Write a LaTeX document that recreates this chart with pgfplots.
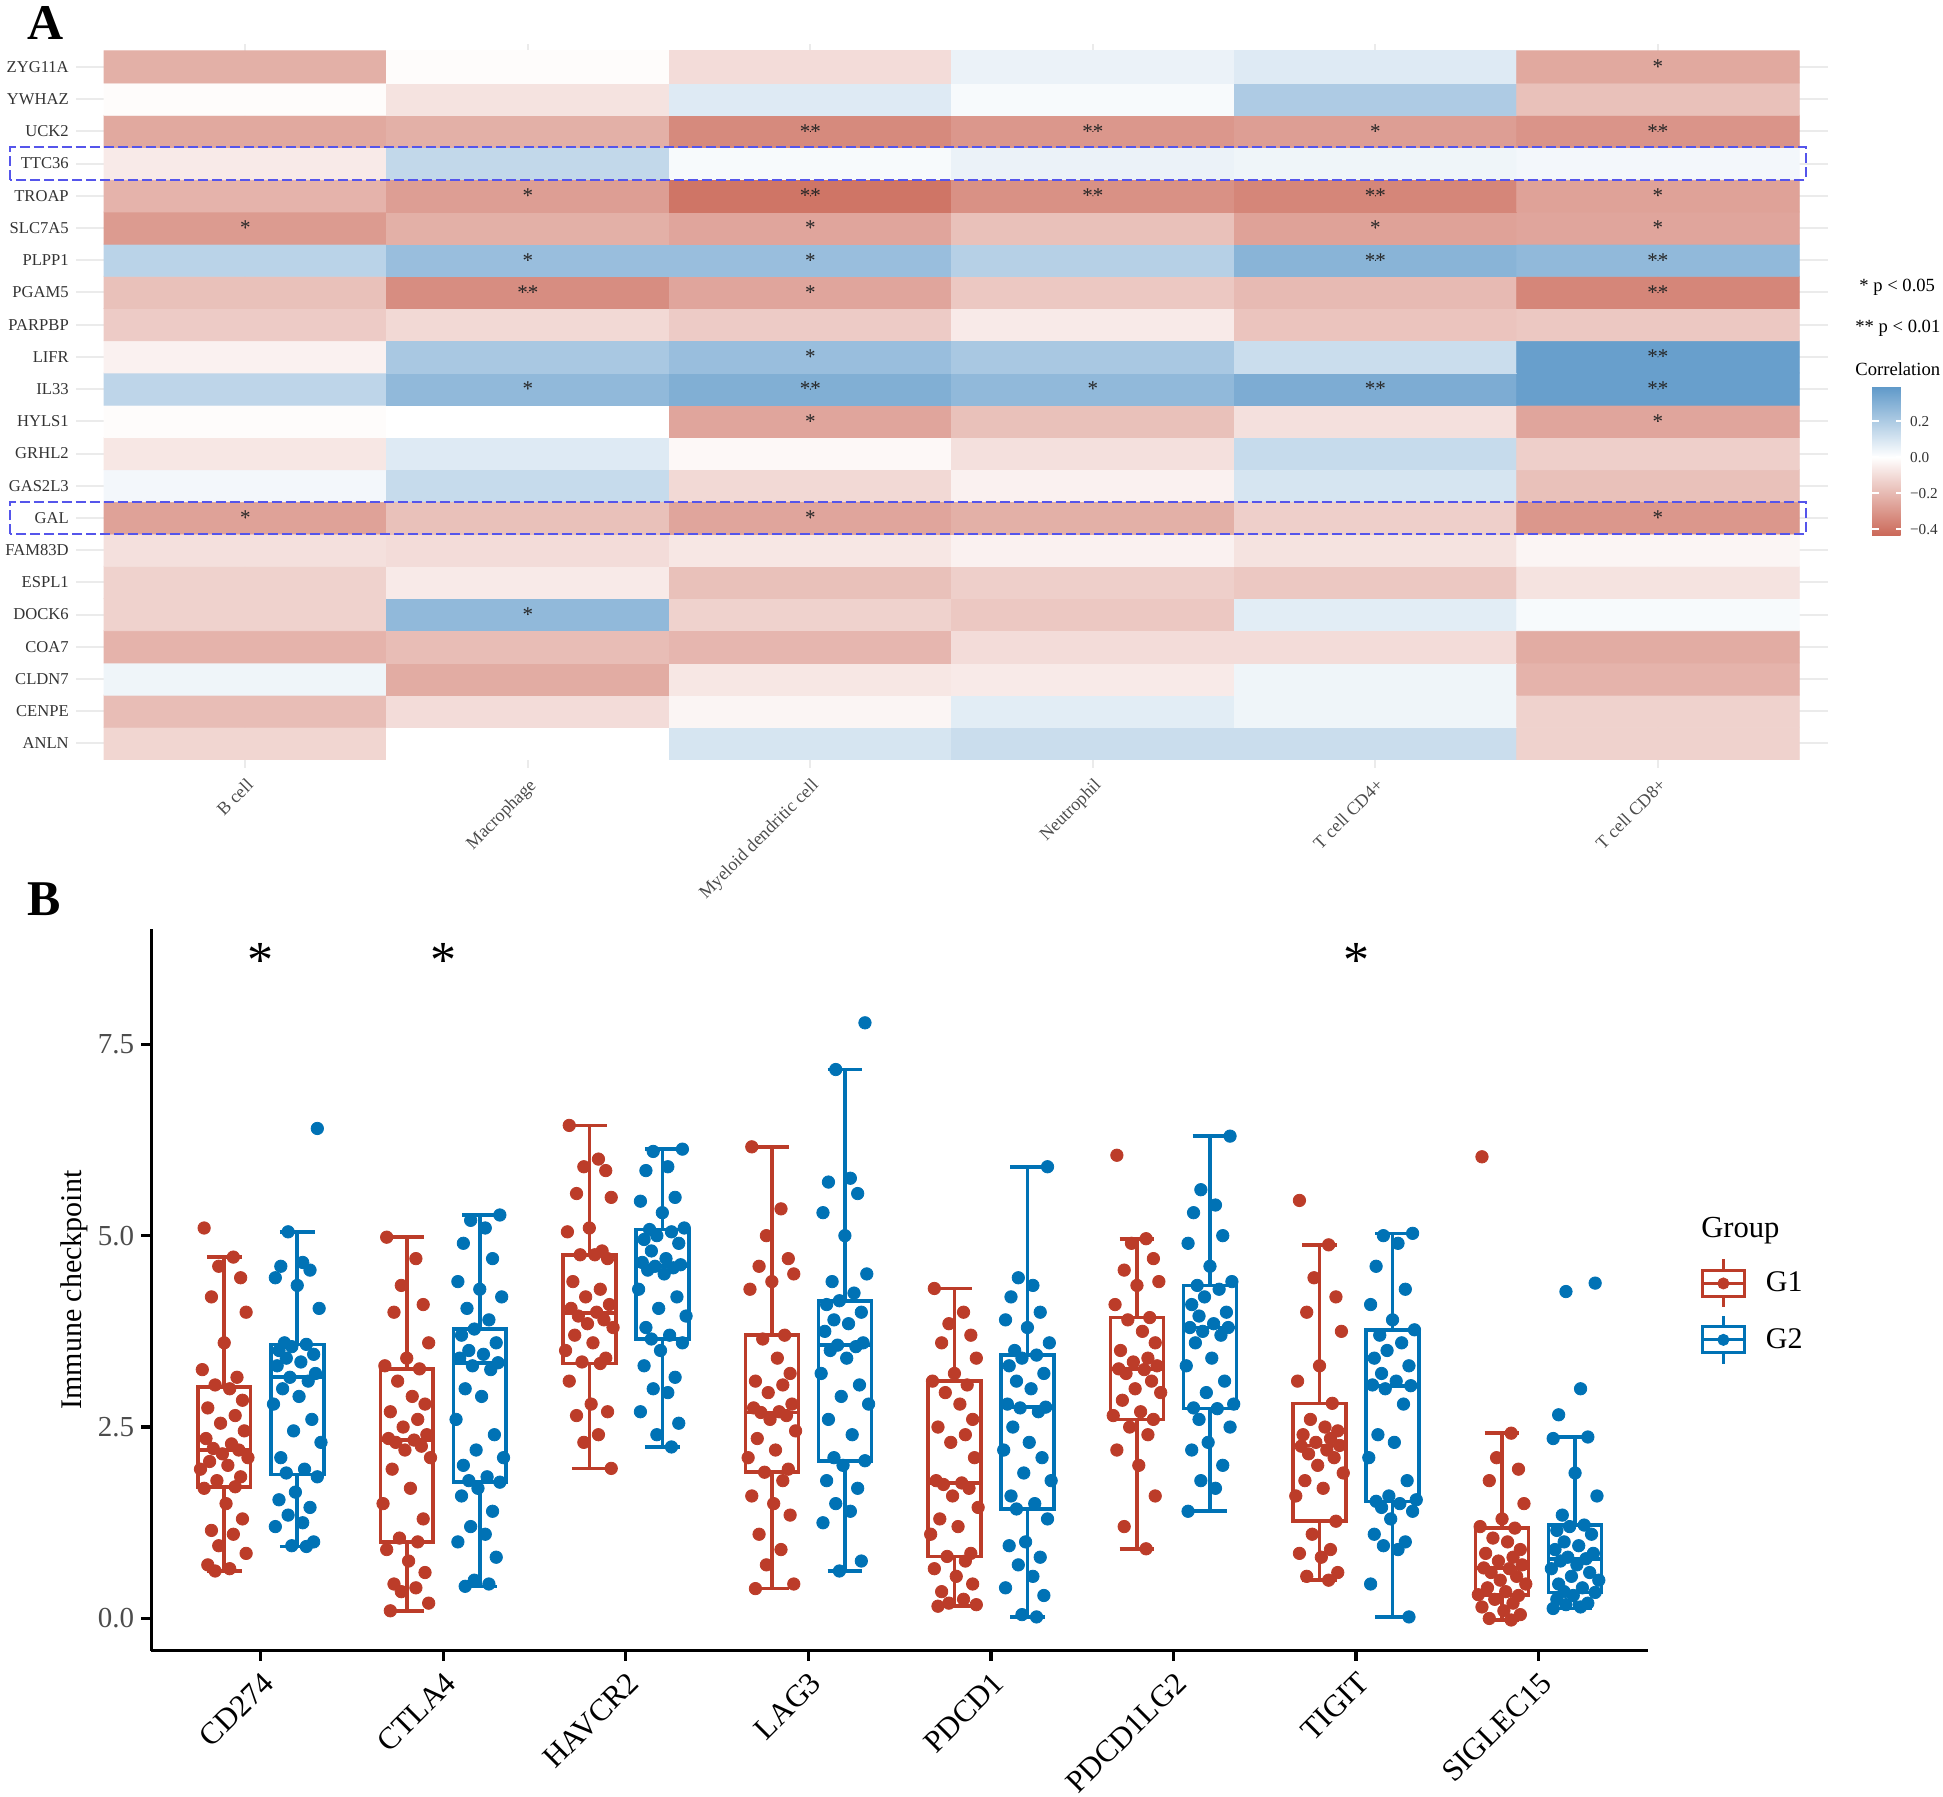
\documentclass[border=0pt]{standalone}
\usepackage{fontspec}
\setmainfont{Liberation Serif}
\usepackage{pgfplots}
\pgfplotsset{compat=1.18}
\usepgfplotslibrary{statistics}
\usepackage{pgfplotstable}

\definecolor{g1col}{RGB}{188,60,41}
\definecolor{g2col}{RGB}{0,114,181}
\definecolor{dashblue}{RGB}{85,85,235}

\pgfplotsset{colormap={corr}{rgb255(0cm)=(203,105,89) rgb255(4.345cm)=(255,255,255) rgb255(8.275cm)=(95,153,201)}}

% heatmap: x = cell type (0..5), y = gene (0 = ANLN ... 21 = ZYG11A), c = correlation
\pgfplotstableread{
x y c
0 0 -0.12
1 0 0.00
2 0 0.10
3 0 0.13
4 0 0.13
5 0 -0.13
0 1 -0.19
1 1 -0.10
2 1 -0.03
3 1 0.07
4 1 0.04
5 1 -0.13
0 2 0.04
1 2 -0.24
2 2 -0.07
3 2 -0.06
4 2 0.04
5 2 -0.22
0 3 -0.22
1 3 -0.19
2 3 -0.21
3 3 -0.10
4 3 -0.10
5 3 -0.24
0 4 -0.13
1 4 0.27
2 4 -0.13
3 4 -0.16
4 4 0.07
5 4 0.02
0 5 -0.13
1 5 -0.06
2 5 -0.18
3 5 -0.14
4 5 -0.16
5 5 -0.08
0 6 -0.09
1 6 -0.10
2 6 -0.07
3 6 -0.04
4 6 -0.08
5 6 -0.03
0 7 -0.27
1 7 -0.18
2 7 -0.26
3 7 -0.23
4 7 -0.14
5 7 -0.30
0 8 0.03
1 8 0.14
2 8 -0.11
3 8 -0.04
4 8 0.10
5 8 -0.18
0 9 -0.07
1 9 0.08
2 9 -0.02
3 9 -0.09
4 9 0.14
5 9 -0.14
0 10 -0.01
1 10 0.00
2 10 -0.26
3 10 -0.18
4 10 -0.09
5 10 -0.26
0 11 0.16
1 11 0.27
2 11 0.31
3 11 0.27
4 11 0.32
5 11 0.37
0 12 -0.04
1 12 0.21
2 12 0.25
3 12 0.21
4 12 0.13
5 12 0.37
0 13 -0.15
1 13 -0.11
2 13 -0.15
3 13 -0.06
4 13 -0.17
5 13 -0.16
0 14 -0.18
1 14 -0.33
2 14 -0.26
3 14 -0.16
4 14 -0.20
5 14 -0.35
0 15 0.17
1 15 0.25
2 15 0.25
3 15 0.18
4 15 0.29
5 15 0.27
0 16 -0.29
1 16 -0.23
2 16 -0.26
3 16 -0.18
4 16 -0.27
5 16 -0.26
0 17 -0.22
1 17 -0.28
2 17 -0.40
3 17 -0.32
4 17 -0.35
5 17 -0.27
0 18 -0.06
1 18 0.15
2 18 0.02
3 18 0.05
4 18 0.04
5 18 0.03
0 19 -0.25
1 19 -0.23
2 19 -0.34
3 19 -0.30
4 19 -0.28
5 19 -0.31
0 20 -0.01
1 20 -0.08
2 20 0.08
3 20 0.02
4 20 0.20
5 20 -0.18
0 21 -0.23
1 21 -0.01
2 21 -0.10
3 21 0.05
4 21 0.08
5 21 -0.25
}\heat

\pgfplotstableread{
x y s
5 21 *
2 19 **
3 19 **
4 19 *
5 19 **
1 17 *
2 17 **
3 17 **
4 17 **
5 17 *
0 16 *
2 16 *
4 16 *
5 16 *
1 15 *
2 15 *
4 15 **
5 15 **
1 14 **
2 14 *
5 14 **
2 12 *
5 12 **
1 11 *
2 11 **
3 11 *
4 11 **
5 11 **
2 10 *
5 10 *
0 7 *
2 7 *
5 7 *
1 4 *
}\stars

\pgfplotstableread{
x y s
1 8.59 *
2 8.59 *
7 8.59 *
}\sigstars

% jittered points: j = jitter offset, columns = gene/group values
\pgfplotstableread{
j a1 a2 b1 b2 c1 c2 d1 d2 e1 e2 f1 f2 g1 g2 h1 h2
-0.11 5.10 6.40 4.98 5.27 6.44 6.13 6.16 7.78 4.31 5.90 6.05 6.30 5.46 5.03 6.03 4.38
0.05 4.72 5.05 4.70 5.20 6.00 6.10 5.35 7.17 4.00 4.45 4.96 5.60 4.88 5.00 2.42 4.27
-0.03 4.60 4.65 4.35 5.10 5.90 5.90 5.00 5.75 3.85 4.35 4.90 5.40 4.45 4.90 2.10 3.00
0.09 4.45 4.60 4.10 4.90 5.85 5.85 4.70 5.70 3.70 4.20 4.70 5.30 4.20 4.60 1.95 2.66
-0.07 4.20 4.55 4.00 4.70 5.55 5.50 4.60 5.55 3.60 4.00 4.55 5.00 4.00 4.30 1.80 2.37
0.12 4.00 4.45 3.60 4.40 5.50 5.45 4.50 5.30 3.40 3.90 4.40 4.90 3.75 4.10 1.50 2.35
0.00 3.60 4.35 3.40 4.30 5.10 5.30 4.40 5.00 3.20 3.80 4.35 4.60 3.30 3.90 1.30 1.90
-0.12 3.25 4.05 3.30 4.20 5.05 5.10 4.30 4.50 3.10 3.60 4.10 4.40 3.10 3.77 1.20 1.60
0.07 3.15 3.60 3.26 4.05 4.80 5.08 3.70 4.40 3.05 3.50 3.93 4.35 2.81 3.70 1.18 1.35
-0.05 3.05 3.58 3.10 3.90 4.75 5.05 3.65 4.25 2.95 3.44 3.90 4.30 2.60 3.60 1.05 1.22
0.03 3.00 3.55 2.90 3.78 4.75 5.00 3.40 4.15 2.80 3.40 3.75 4.20 2.50 3.50 1.00 1.20
0.10 2.85 3.50 2.80 3.70 4.70 4.95 3.20 4.10 2.60 3.30 3.60 4.10 2.45 3.40 0.90 1.15
-0.09 2.75 3.45 2.70 3.60 4.40 4.90 3.10 4.00 2.50 3.20 3.50 4.00 2.40 3.30 0.85 1.10
0.06 2.65 3.40 2.60 3.50 4.30 4.80 3.05 3.90 2.40 3.10 3.40 3.95 2.35 3.20 0.80 1.00
-0.02 2.55 3.35 2.50 3.45 4.20 4.70 2.95 3.85 2.30 3.00 3.35 3.85 2.30 3.10 0.75 0.95
0.11 2.45 3.30 2.40 3.40 4.10 4.65 2.80 3.75 2.10 2.80 3.30 3.80 2.26 3.05 0.70 0.90
-0.10 2.35 3.20 2.35 3.34 4.05 4.62 2.75 3.60 1.80 2.76 3.26 3.80 2.25 3.04 0.66 0.85
0.04 2.28 3.15 2.33 3.30 4.00 4.60 2.70 3.57 1.77 2.75 3.25 3.75 2.20 3.00 0.65 0.80
-0.06 2.22 3.10 2.30 3.25 3.95 4.58 2.69 3.55 1.75 2.70 3.20 3.70 2.15 2.80 0.60 0.78
0.08 2.20 3.00 2.25 3.00 3.90 4.55 2.65 3.50 1.70 2.50 3.10 3.60 2.10 2.40 0.55 0.75
-0.01 2.15 2.90 2.20 2.90 3.85 4.50 2.60 3.40 1.60 2.30 3.00 3.40 2.00 2.30 0.50 0.70
0.13 2.10 2.80 2.10 2.60 3.80 4.30 2.45 3.20 1.45 2.20 2.95 3.30 1.90 2.10 0.45 0.65
-0.08 2.05 2.60 1.95 2.40 3.70 4.20 2.35 3.05 1.30 2.10 2.85 3.10 1.80 1.80 0.40 0.60
0.02 2.00 2.45 1.70 2.20 3.60 4.05 2.20 2.90 1.20 1.90 2.70 2.95 1.70 1.60 0.35 0.55
-0.13 1.95 2.30 1.50 2.10 3.50 3.95 2.10 2.80 1.10 1.80 2.65 2.80 1.60 1.55 0.31 0.50
0.09 1.85 2.10 1.30 2.00 3.40 3.80 1.95 2.60 0.85 1.60 2.60 2.75 1.27 1.53 0.30 0.45
-0.04 1.80 1.95 1.05 1.85 3.35 3.70 1.91 2.40 0.81 1.50 2.50 2.74 1.10 1.50 0.25 0.40
0.06 1.72 1.90 1.00 1.80 3.33 3.65 1.80 2.10 0.75 1.43 2.40 2.60 0.90 1.45 0.20 0.35
-0.11 1.70 1.85 0.90 1.78 3.10 3.60 1.60 2.06 0.65 1.30 2.20 2.50 0.85 1.40 0.15 0.34
0.01 1.50 1.65 0.75 1.70 2.80 3.50 1.50 2.00 0.55 1.00 2.00 2.30 0.80 1.30 0.10 0.30
0.10 1.30 1.55 0.60 1.60 2.70 3.30 1.35 1.80 0.45 0.95 1.60 2.20 0.60 1.10 0.05 0.25
-0.07 1.15 1.45 0.45 1.40 2.65 3.15 1.10 1.70 0.35 0.80 1.20 2.00 0.55 1.00 0.00 0.20
0.05 1.10 1.35 0.40 1.20 2.40 3.00 0.90 1.50 0.25 0.70 0.91 1.80 0.50 0.95 -0.02 0.18
-0.03 0.95 1.25 0.35 1.10 2.30 2.95 0.70 1.40 0.20 0.55 nan 1.70 nan 0.90 nan 0.15
0.12 0.85 1.20 0.20 1.00 1.96 2.70 0.45 1.25 0.18 0.40 nan 1.40 nan 0.45 nan 0.13
-0.09 0.70 1.00 0.10 0.80 nan 2.55 0.39 0.75 0.16 0.30 nan nan nan 0.02 nan nan
0.03 0.65 0.95 nan 0.50 nan 2.40 nan 0.62 nan 0.05 nan nan nan nan nan nan
-0.05 0.62 0.94 nan 0.45 nan 2.24 nan nan nan 0.02 nan nan nan nan nan nan
0.08 nan nan nan 0.42 nan nan nan nan nan nan nan nan nan nan nan nan
}\pts

\newcommand{\bx}[7]{\addplot[#1, line width=1.8pt, forget plot, boxplot prepared={draw direction=y, draw position=#2, lower whisker=#3, lower quartile=#4, median=#5, upper quartile=#6, upper whisker=#7}] coordinates {};}
\newcommand{\pp}[3]{\addplot[only marks, mark=*, mark size=3.1pt, #1, forget plot] table[x expr={#2}, y=#3] {\pts};}

\begin{document}
\begin{tikzpicture}
\path[use as bounding box] (0,0) rectangle (971.5pt,898pt);

% panel labels
\node[anchor=north west, inner sep=0pt, font=\bfseries\fontsize{25}{25}\selectfont] at (13.5pt,895pt) {A};
\node[anchor=north west, inner sep=0pt, font=\bfseries\fontsize{25}{25}\selectfont] at (13.5pt,457pt) {B};

% ---------------- Panel A: heatmap ----------------
\begin{axis}[
  at={(37.9pt,514.2pt)}, anchor=south west, scale only axis,
  width=875.85pt, height=361.6pt,
  xmin=-0.6, xmax=5.6, ymin=-0.75, ymax=21.7,
  xtick={0,1,2,3,4,5},
  xticklabels={B cell,Macrophage,Myeloid dendritic cell,Neutrophil,T cell CD4+,T cell CD8+},
  ytick={0,...,21},
  yticklabels={ANLN,CENPE,CLDN7,COA7,DOCK6,ESPL1,FAM83D,GAL,GAS2L3,GRHL2,HYLS1,IL33,LIFR,PARPBP,PGAM5,PLPP1,SLC7A5,TROAP,TTC36,UCK2,YWHAZ,ZYG11A},
  axis line style={draw=none}, major tick length=0pt,
  grid=major, major grid style={black!8, line width=1pt},
  xticklabel style={rotate=45, anchor=north east, font=\fontsize{9}{10}\selectfont, text=black!70},
  yticklabel style={font=\fontsize{8.3}{10}\selectfont, text=black!80},
  colormap name=corr, point meta min=-0.4345, point meta max=0.393,
  clip=false,
]
\addplot[matrix plot*, mesh/cols=6, point meta=explicit] table[x=x, y=y, meta=c] {\heat};
\addplot[only marks, mark=*, mark size=0.01pt, mark options={draw=none, fill=none},
  nodes near coords, nodes near coords align={center}, point meta=explicit symbolic,
  every node near coord/.append style={font=\fontsize{10.5}{10.5}\selectfont, text=black!85, inner sep=0pt}]
  table[x=x, y=y, meta=s] {\stars};
\draw[dashblue, line width=1pt, dash pattern=on 5pt off 2pt] (axis cs:-0.8335,17.5) rectangle (axis cs:5.523,18.5);
\draw[dashblue, line width=1pt, dash pattern=on 5pt off 2pt] (axis cs:-0.8335,6.5) rectangle (axis cs:5.523,7.5);
\end{axis}

% legend text for panel A
\node[anchor=west, inner sep=0pt, font=\fontsize{9.3}{11}\selectfont] at (929.5pt,754.25pt) {* p < 0.05};
\node[anchor=west, inner sep=0pt, font=\fontsize{9.3}{11}\selectfont] at (927.5pt,733.8pt) {** p < 0.01};
\node[anchor=west, inner sep=0pt, font=\fontsize{9.3}{11}\selectfont] at (927.5pt,713.35pt) {Correlation};

% colour bar
\begin{axis}[
  at={(927.5pt,630.35pt)}, anchor=south west, scale only axis,
  width=15.5pt, height=74.35pt, hide axis,
  xmin=0, xmax=1, ymin=0, ymax=1,
  colormap name=corr, point meta min=-0.4345, point meta max=0.393,
  colorbar,
  colorbar style={
    at={(parent axis.south west)}, anchor=south west,
    scale only axis, width=15.5pt, height=74.35pt,
    ytick={-0.4,-0.2,0,0.2}, yticklabels={−0.4,−0.2,0.0,0.2},
    yticklabel pos=right, ytick pos=both,
    tick align=inside, major tick length=3.5pt,
    tick style={white, line width=0.8pt},
    axis line style={draw=none},
    yticklabel style={font=\fontsize{7.6}{9}\selectfont, text=black!80},
  },
]
\addplot[draw=none] coordinates {(0.5,0.5)};
\end{axis}

% ---------------- Panel B: box plots ----------------
\begin{axis}[
  at={(75.6pt,72.7pt)}, anchor=south west, scale only axis,
  width=748.45pt, height=360.6pt,
  xmin=0.4, xmax=8.6, ymin=-0.42, ymax=9.0,
  axis lines=left, axis line style={-, line width=1.6pt, black},
  xtick={1,...,8},
  xticklabels={CD274,CTLA4,HAVCR2,LAG3,PDCD1,PDCD1LG2,TIGIT,SIGLEC15},
  ytick={0,2.5,5,7.5}, yticklabels={0.0,2.5,5.0,7.5},
  tick align=outside, major tick length=5pt, tick style={black, line width=1.6pt},
  xticklabel style={rotate=45, anchor=north east, font=\fontsize{15.5}{18}\selectfont, text=black},
  yticklabel style={font=\fontsize{14.5}{17}\selectfont, text=black!70},
  ylabel={Immune checkpoint},
  ylabel style={at={(rel axis cs:-0.0513,0.5)}, anchor=center, font=\fontsize{15}{18}\selectfont},
  boxplot/draw direction=y,
  boxplot/box extend=0.29, boxplot/whisker extend=0.19,
  clip=false,
  legend style={at={(1.035,0.545)}, anchor=north west, draw=none, fill=none,
    font=\fontsize{15}{18}\selectfont, row sep=2.7pt, inner sep=0pt},
  legend cell align=left,
]
\bx{g1col}{0.8}{0.62}{1.72}{2.20}{3.02}{4.72}
\bx{g2col}{1.2}{0.94}{1.88}{3.15}{3.58}{5.05}
\bx{g1col}{1.8}{0.10}{1.00}{2.33}{3.26}{4.98}
\bx{g2col}{2.2}{0.42}{1.78}{3.34}{3.78}{5.27}
\bx{g1col}{2.8}{1.96}{3.33}{3.99}{4.75}{6.44}
\bx{g2col}{3.2}{2.24}{3.65}{4.60}{5.08}{6.13}
\bx{g1col}{3.8}{0.39}{1.91}{2.69}{3.70}{6.16}
\bx{g2col}{4.2}{0.62}{2.06}{3.57}{4.15}{7.17}
\bx{g1col}{4.8}{0.16}{0.81}{1.77}{3.10}{4.31}
\bx{g2col}{5.2}{0.02}{1.43}{2.76}{3.44}{5.90}
\bx{g1col}{5.8}{0.91}{2.60}{3.26}{3.93}{4.96}
\bx{g2col}{6.2}{1.40}{2.74}{3.80}{4.35}{6.30}
\bx{g1col}{6.8}{0.50}{1.27}{2.26}{2.81}{4.88}
\bx{g2col}{7.2}{0.02}{1.53}{3.04}{3.77}{5.03}
\bx{g1col}{7.8}{-0.02}{0.31}{0.66}{1.18}{2.42}
\bx{g2col}{8.2}{0.13}{0.34}{0.78}{1.22}{2.37}

\pp{g1col}{0.8+\thisrow{j}}{a1}
\pp{g2col}{1.2-\thisrow{j}}{a2}
\pp{g1col}{1.8+\thisrow{j}}{b1}
\pp{g2col}{2.2-\thisrow{j}}{b2}
\pp{g1col}{2.8+\thisrow{j}}{c1}
\pp{g2col}{3.2-\thisrow{j}}{c2}
\pp{g1col}{3.8+\thisrow{j}}{d1}
\pp{g2col}{4.2-\thisrow{j}}{d2}
\pp{g1col}{4.8+\thisrow{j}}{e1}
\pp{g2col}{5.2-\thisrow{j}}{e2}
\pp{g1col}{5.8+\thisrow{j}}{f1}
\pp{g2col}{6.2-\thisrow{j}}{f2}
\pp{g1col}{6.8+\thisrow{j}}{g1}
\pp{g2col}{7.2-\thisrow{j}}{g2}
\pp{g1col}{7.8+\thisrow{j}}{h1}
\pp{g2col}{8.2-\thisrow{j}}{h2}

\addplot[only marks, mark=*, mark size=0.01pt, mark options={draw=none, fill=none}, forget plot,
  nodes near coords, nodes near coords align={center}, point meta=explicit symbolic,
  every node near coord/.append style={font=\fontsize{26}{26}\selectfont, text=black, inner sep=0pt}]
  table[x=x, y=y, meta=s] {\sigstars};

\addlegendimage{legend image code/.code={
  \draw[g1col, line width=1.5pt] (0pt,-6.5pt) rectangle (21pt,6.5pt) (0pt,0pt) -- (21pt,0pt)
    (10.5pt,6.5pt) -- (10.5pt,12pt) (10.5pt,-6.5pt) -- (10.5pt,-12pt);
  \fill[g1col] (10.5pt,0pt) circle (2.8pt);}}
\addlegendentry{\hspace{8pt}G1}
\addlegendimage{legend image code/.code={
  \draw[g2col, line width=1.5pt] (0pt,-6.5pt) rectangle (21pt,6.5pt) (0pt,0pt) -- (21pt,0pt)
    (10.5pt,6.5pt) -- (10.5pt,12pt) (10.5pt,-6.5pt) -- (10.5pt,-12pt);
  \fill[g2col] (10.5pt,0pt) circle (2.8pt);}}
\addlegendentry{\hspace{8pt}G2}

\node[anchor=west, inner sep=0pt, font=\fontsize{15.3}{18}\selectfont] at (rel axis cs:1.0353,0.5825) {Group};
\end{axis}
\end{tikzpicture}
\end{document}
